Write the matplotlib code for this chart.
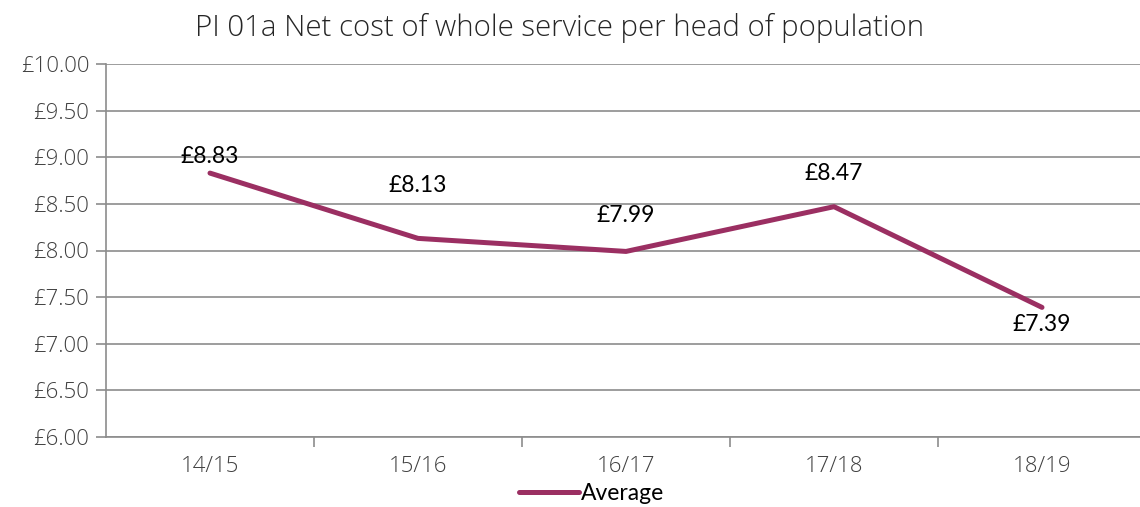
import matplotlib
matplotlib.use("Agg")
import matplotlib.pyplot as plt
from matplotlib.lines import Line2D

categories = ["14/15", "15/16", "16/17", "17/18", "18/19"]
average = [8.83, 8.13, 7.99, 8.47, 7.39]
y_ticks = [6.0, 6.5, 7.0, 7.5, 8.0, 8.5, 9.0, 9.5, 10.0]

title = "PI 01a Net cost of whole service per head of population"
line_color = "#9B2F62"
grid_color = "#8C8C8C"
text_color = "#404040"
axis_font = "Open Sans"

fig = plt.figure(figsize=(11.4, 5.07), dpi=100)
ax = fig.add_axes([106 / 1140, 1 - 437 / 507, 1040 / 1140, 373 / 507])

x = list(range(len(categories)))
ax.plot(x, average, color=line_color, linewidth=3.6, solid_capstyle="round")

ax.set_xlim(-0.5, len(categories) - 0.5)
ax.set_ylim(6.0, 10.0)
ax.set_yticks(y_ticks)
ax.set_yticklabels([f"£{v:.2f}" for v in y_ticks])
ax.yaxis.grid(True, color=grid_color, linewidth=1.2)
ax.set_axisbelow(True)

ax.set_xticks(x)
ax.set_xticklabels(categories)
ax.set_xticks([i + 0.5 for i in range(len(categories))], minor=True)
ax.tick_params(axis="x", which="major", length=0, pad=14,
               labelsize=16, labelcolor=text_color)
ax.tick_params(axis="x", which="minor", length=7, width=1.2, color=grid_color)
ax.tick_params(axis="y", length=7, width=1.2, color=grid_color, pad=5,
               labelsize=16, labelcolor=text_color)
for lbl in ax.get_xticklabels() + ax.get_yticklabels():
    lbl.set_fontfamily(axis_font)
    lbl.set_fontweight("light")

for side in ("top", "right"):
    ax.spines[side].set_visible(False)
for side in ("left", "bottom"):
    ax.spines[side].set_color(grid_color)
    ax.spines[side].set_linewidth(1.2)

# value labels: offsets in points from each point
offsets = [(0, 12), (0, 38), (0, 26), (0, 24), (0, -12)]
for xi, v, (dx, dy) in zip(x, average, offsets):
    ax.annotate(f"£{v:.2f}", (xi, v), xytext=(dx, dy), textcoords="offset points",
                ha="center", va="center", fontsize=16.5, color="black",
                fontfamily="Lato")

title_text = fig.text(560 / 1140, 1 - 28 / 507, title, ha="center", va="center",
                      fontsize=20, color="#262626", fontfamily=axis_font,
                      fontweight="light")

# scale the title so it spans the intended width
renderer = fig.canvas.get_renderer()
w = title_text.get_window_extent(renderer).width
title_text.set_fontsize(20 * 730 / w)

handle = Line2D([], [], color=line_color, linewidth=3.6, solid_capstyle="round")
fig.legend([handle], ["Average"], loc="center", bbox_to_anchor=(592 / 1140, 1 - 494 / 507),
           frameon=False, handlelength=2.6, handletextpad=0.1,
           prop={"family": "Lato", "size": 16.5})

fig.savefig("out.png", dpi=100)
